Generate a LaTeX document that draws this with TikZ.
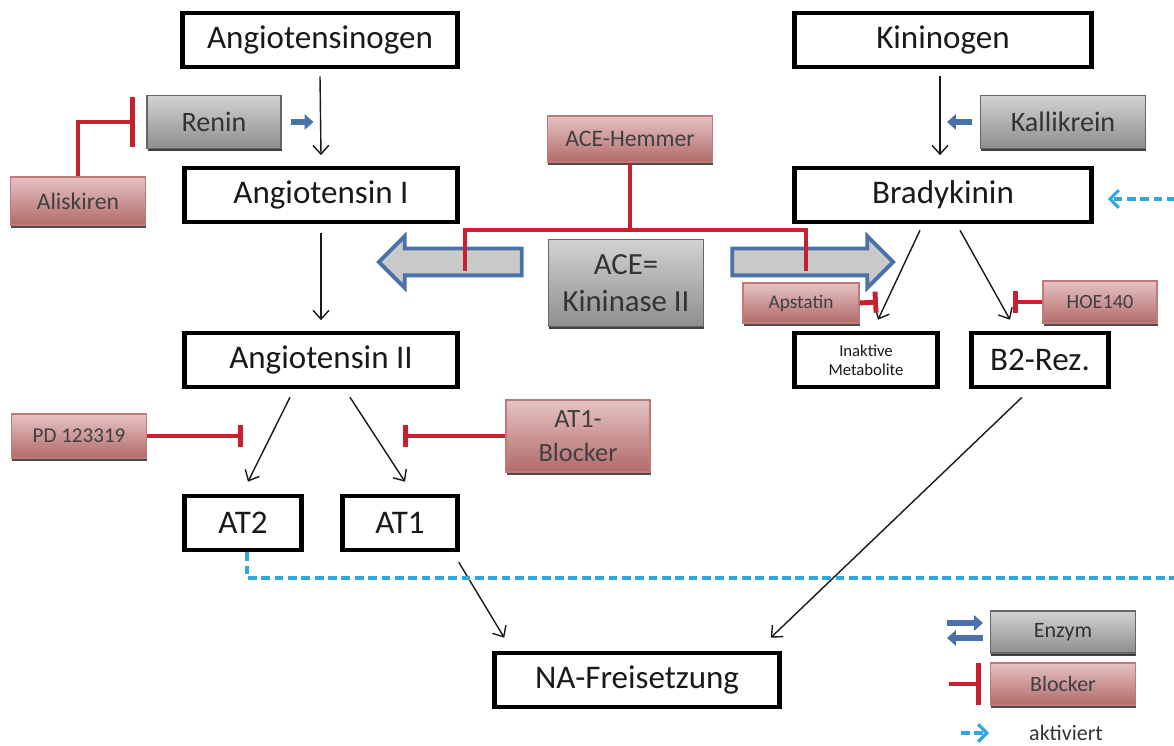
\documentclass[tikz,border=0pt]{standalone}
\usepackage{fontspec}
\setmainfont{Carlito}
\usepackage{tikz}
\usetikzlibrary{arrows.meta,calc,shapes.arrows,shadows}

\definecolor{hemmrot}{HTML}{C8202F}
\definecolor{enzblau}{HTML}{4A72A8}
\definecolor{aktblau}{HTML}{2FA8E0}
\definecolor{enzoben}{HTML}{D2D2D2}
\definecolor{enzunten}{HTML}{8E8E8E}
\definecolor{blockoben}{HTML}{E6C3C3}
\definecolor{blockunten}{HTML}{B26A6A}
\definecolor{blockrand}{HTML}{C07878}

\tikzset{
>={Straight Barb[length=5pt,width=9pt]}, % open arrow heads
box/.style={draw, line width=2.6pt, fill=white, inner sep=0pt, text=black!90,
	minimum height=1.08cm, font=\fontsize{18.8}{21}\selectfont}, % substances
enzym/.style={draw=black!60, line width=0.6pt, top color=enzoben, bottom color=enzunten,
	inner sep=0pt, text=black!80, font=\fontsize{16}{18}\selectfont,
	drop shadow={shadow xshift=0.3pt, shadow yshift=-1.5pt, fill=black!75, opacity=1}}, % enzymes
blocker/.style={draw=blockrand, line width=0.6pt, top color=blockoben, bottom color=blockunten,
	inner sep=0pt, text=black!75, font=\fontsize{13.5}{15}\selectfont,
	drop shadow={shadow xshift=0.3pt, shadow yshift=-1.5pt, fill=black!70, opacity=1}}, % inhibitors
flow/.style={->, line width=0.8pt, black!90}, % conversion
hemm/.style={hemmrot, line width=2.8pt}, % inhibition
enzpfeil/.style={enzblau, line width=3.2pt, -{Triangle[width=8.5pt,length=5pt]}}, % enzyme acts
bigarrow/.style={single arrow, draw=enzblau, line width=2.2pt, fill=gray!42, inner sep=0pt,
	inner ysep=0.23cm, single arrow head extend=0.25cm}, % ACE acts
aktiv/.style={aktblau, line width=1.8pt, dash pattern=on 5pt off 2.6pt,
	-{Straight Barb[length=5pt,width=10pt]}}, % activation
}

\begin{document}
\begin{tikzpicture}[x=0.02cm, y=-0.02cm]
	\useasboundingbox (0,0) rectangle (1174,746);
	% substances
	\node[box, minimum width=5.5cm] (ago) at (320,40) {Angiotensinogen};
	\node[box, minimum width=5.46cm] (ang1) at (321,195) {Angiotensin I};
	\node[box, minimum width=5.46cm] (ang2) at (321,360) {Angiotensin II};
	\node[box, minimum width=2.34cm] (at2) at (243,523) {AT2};
	\node[box, minimum width=2.3cm] (at1) at (400,523) {AT1};
	\node[box, minimum width=5.7cm] (na) at (637,680) {NA-Freisetzung};
	\node[box, minimum width=5.94cm] (kino) at (943,40) {Kininogen};
	\node[box, minimum width=5.94cm] (brady) at (943,195) {Bradykinin};
	\node[box, minimum width=2.86cm, align=center, font=\fontsize{9.5}{11}\selectfont] (meta) at (866,360) {Inaktive\\Metabolite};
	\node[box, minimum width=2.74cm] (b2) at (1040,360) {B2-Rez.};
	% enzymes
	\node[enzym, minimum width=2.68cm, minimum height=1.06cm] (renin) at (214,122) {Renin};
	\node[enzym, minimum width=3.3cm, minimum height=1.06cm] (kalli) at (1063,122) {Kallikrein};
	\node[enzym, minimum width=3.1cm, minimum height=1.74cm, align=center, font=\fontsize{17.5}{21}\selectfont] (ace) at (626,283) {ACE=\\Kininase II};
	\node[bigarrow, minimum height=2.86cm, shape border rotate=180] (acel) at (457,262) {};
	\node[bigarrow, minimum height=3.22cm] (acer) at (806,262) {};
	% inhibitors
	\node[blocker, minimum width=2.7cm, minimum height=0.96cm] (alis) at (78,201) {Aliskiren};
	\node[blocker, minimum width=3.3cm, minimum height=0.92cm] (hemmer) at (630,139) {ACE-Hemmer};
	\node[blocker, minimum width=2.32cm, minimum height=0.8cm, font=\fontsize{11}{13}\selectfont] (apst) at (801,303) {Apstatin};
	\node[blocker, minimum width=2.28cm, minimum height=0.84cm, font=\fontsize{11.5}{13}\selectfont] (hoe) at (1100,302) {HOE140};
	\node[blocker, minimum width=2.7cm, minimum height=0.88cm, font=\fontsize{12}{14}\selectfont] (pd) at (79,436) {PD 123319};
	\node[blocker, minimum width=2.88cm, minimum height=1.44cm, align=center, font=\fontsize{15}{19}\selectfont] (at1b) at (578,436) {AT1-\\Blocker};
	% legend
	\node[enzym, minimum width=2.9cm, minimum height=0.84cm, font=\fontsize{12.5}{14}\selectfont] (enzleg) at (1063,632) {Enzym};
	\node[blocker, minimum width=2.9cm, minimum height=0.84cm, font=\fontsize{12.5}{14}\selectfont] (blkleg) at (1063,684) {Blocker};
	\node[font=\fontsize{12.5}{14}\selectfont, text=black!80, inner sep=1pt] (aktleg) at (1066,733) {aktiviert};

	% conversions
	\draw[flow] ([yshift=-4pt]ago.south) -- ([yshift=6pt]ang1.north);
	\draw[flow] ([xshift=-0.06cm, yshift=-4pt]kino.south) -- ([xshift=-0.06cm, yshift=6pt]brady.north);
	\draw[flow] ([yshift=-5pt]ang1.south) -- ([yshift=6pt]ang2.north);
	\draw[flow] ($(brady.south)+(-23,6)$) -- ($(meta.north)+(12,-11)$);
	\draw[flow] ($(brady.south)+(17,6)$) -- ($(b2.north)+(-30,-11)$);
	\draw[flow] ($(ang2.south)+(-31,8)$) -- ($(at2.north)+(5,-12)$);
	\draw[flow] ($(ang2.south)+(29,8)$) -- ($(at1.north)+(5,-12)$);
	\draw[flow] ($(at1.south east)+(-1,10)$) -- ($(na.north west)+(12,-13)$);
	\draw[flow] ($(b2.south)+(-18,8)$) -- ($(na.north east)+(-11,-13)$);

	% enzyme acts
	\draw[enzpfeil] ($(renin.east)+(9,0)$) -- ($(renin.east)+(32,0)$);
	\draw[enzpfeil] ($(kalli.west)+(-8,0)$) -- ($(kalli.west)+(-33,0)$);

	% inhibitions
	\coordinate (alisbar) at (135,122);
	\coordinate (apstbar) at (878,302);
	\coordinate (hoebar) at (1013,302);
	\coordinate (pdbar) at (243,436);
	\coordinate (at1bar) at (403,436);
	\draw[hemm, -{Bar[width=28pt]}] (alis.north) |- (alisbar);
	\draw[hemm, -{Bar[width=12pt]}] (apst.east) -- (apstbar);
	\draw[hemm, -{Bar[width=12pt]}] (hoe.west) -- (hoebar);
	\draw[hemm, -{Bar[width=12pt]}] (pd.east) -- (pdbar);
	\draw[hemm, -{Bar[width=12pt]}] (at1b.west) -- (at1bar);
	\coordinate (hj) at (630,230);
	\coordinate (hl) at (465,271);
	\coordinate (hr) at (806,271);
	\draw[hemm] (hemmer.south) -- (hj);
	\draw[hemm] (hl) |- (hj) -| (hr);

	% activation (AT2 -> Bradykinin)
	\coordinate (ecke1) at (1190,578);
	\coordinate (ecke2) at (1190,199);
	\draw[aktiv] ([xshift=0.08cm]at2.south) |- (ecke1) -- (ecke2) -- ($(brady.east)+(14,4)$);

	% legend symbols
	\draw[enzpfeil] ($(enzleg.west)+(-43,-9)$) -- ($(enzleg.west)+(-7,-9)$);
	\draw[enzpfeil] ($(enzleg.west)+(-7,6)$) -- ($(enzleg.west)+(-43,6)$);
	\draw[hemm, -{Bar[width=24pt]}] ($(blkleg.west)+(-41,0)$) -- ($(blkleg.west)+(-9,0)$);
	\draw[aktiv] ($(aktleg.west)+(-66,0)$) -- ($(aktleg.west)+(-38,0)$);
\end{tikzpicture}
\end{document}
